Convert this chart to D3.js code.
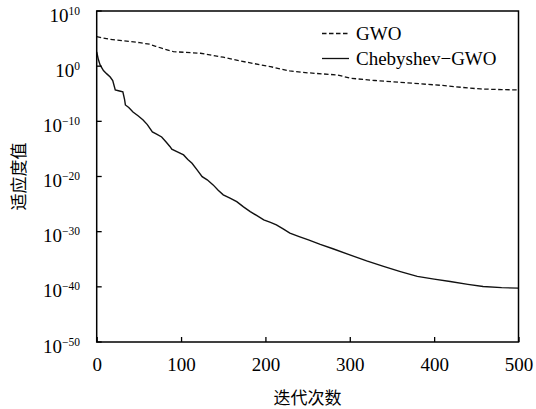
<!DOCTYPE html>
<html>
<head>
<meta charset="utf-8">
<style>
body { margin: 0; background: #fff; }
</style>
</head>
<body>
<script src="https://d3js.org/d3.v7.min.js"></script>
<script>
// iterations and log10 of fitness
var gwoIter = [0, 16, 51, 63, 70, 77, 91, 123, 150, 170, 206, 229, 250, 285, 301, 330, 375, 410, 440, 455, 480, 500];
var gwoLog = [5.34, 4.87, 4.26, 3.97, 3.6, 3.25, 2.63, 2.34, 1.62, 0.94, -0.09, -0.87, -1.2, -1.59, -2.19, -2.6, -3.1, -3.5, -3.95, -4.13, -4.25, -4.31];

var chebIter = [0, 2, 4, 8, 12, 16, 19, 22, 27, 31, 33, 34, 38, 43, 49, 55, 60, 66, 71, 77, 82, 87, 89, 95, 103, 108, 113, 119, 125, 131, 138, 144, 150, 158, 166, 174, 182, 190, 198, 206, 213, 221, 229, 240, 251, 265, 280, 300, 320, 340, 360, 380, 400, 419, 440, 458, 480, 500];
var chebLog = [2.57, 1.2, 0.22, -0.8, -1.4, -1.96, -2.6, -4.31, -4.5, -4.67, -6.0, -7.03, -7.5, -8.3, -9.0, -9.75, -10.6, -11.92, -12.3, -12.83, -13.7, -14.6, -15.05, -15.5, -16.09, -16.9, -17.59, -18.8, -20.02, -20.6, -21.52, -22.5, -23.33, -23.9, -24.55, -25.5, -26.36, -27.1, -27.86, -28.3, -28.77, -29.5, -30.27, -30.9, -31.49, -32.3, -33.1, -34.2, -35.3, -36.3, -37.23, -38.1, -38.6, -39.04, -39.55, -39.95, -40.15, -40.24];

var xTicks = [0, 100, 200, 300, 400, 500];
var yTickExp = [10, 0, -10, -20, -30, -40, -50];
var seriesNames = ["GWO", "Chebyshev\u2212GWO"];

var W = 536, H = 409;
var pLeft = 96.7, pRight = 518.5, pTop = 11, pBottom = 342;
var serif = "'Liberation Serif', 'Times New Roman', serif";
var cjk = "'Noto Sans CJK SC', sans-serif";

var svg = d3.select("body").append("svg")
    .attr("width", W)
    .attr("height", H);

var x = d3.scaleLinear().domain([0, 500]).range([pLeft, pRight]);
var y = d3.scaleLog().domain([1e-50, 1e10]).range([pBottom, pTop]);

function toPts(it, lg) {
    return it.map(function (d, i) { return [d, Math.pow(10, lg[i])]; });
}

var line = d3.line()
    .x(function (d) { return x(d[0]); })
    .y(function (d) { return y(d[1]); });

// series
svg.append("path")
    .attr("d", line(toPts(gwoIter, gwoLog)))
    .attr("fill", "none")
    .attr("stroke", "#111")
    .attr("stroke-width", 1.3)
    .attr("stroke-dasharray", "4.5,2.5");

svg.append("path")
    .attr("d", line(toPts(chebIter, chebLog)))
    .attr("fill", "none")
    .attr("stroke", "#111")
    .attr("stroke-width", 1.4);

// frame
svg.append("rect")
    .attr("x", pLeft).attr("y", pTop)
    .attr("width", pRight - pLeft).attr("height", pBottom - pTop)
    .attr("fill", "none")
    .attr("stroke", "#000")
    .attr("stroke-width", 1.5);

// x ticks (inside)
var xg = svg.append("g").attr("transform", "translate(0," + pBottom + ")");
xg.call(d3.axisBottom(x).tickValues(xTicks).tickSizeInner(-5).tickSizeOuter(0).tickPadding(16).tickFormat(d3.format("d")));
xg.select(".domain").remove();
xg.selectAll("line").attr("stroke", "#000").attr("stroke-width", 1.3);
xg.selectAll("text").attr("font-family", serif).attr("font-size", 19).attr("fill", "#000");

// y ticks (inside)
var yg = svg.append("g");
yTickExp.forEach(function (e) {
    var yy = y(Math.pow(10, e));
    yg.append("line")
        .attr("x1", pLeft).attr("x2", pLeft + 5)
        .attr("y1", yy).attr("y2", yy)
        .attr("stroke", "#000").attr("stroke-width", 1.3);
    var t = yg.append("text")
        .attr("x", 80).attr("y", yy + 10.5)
        .attr("text-anchor", "end")
        .attr("font-family", serif)
        .attr("font-size", 19)
        .attr("fill", "#000");
    t.append("tspan").text("10");
    t.append("tspan")
        .attr("dy", -7)
        .attr("font-size", 11.5)
        .text(e < 0 ? "\u2212" + (-e) : String(e));
});

// axis titles
svg.append("text")
    .attr("x", (pLeft + pRight) / 2).attr("y", 404)
    .attr("text-anchor", "middle")
    .attr("font-family", cjk).attr("font-size", 17)
    .attr("fill", "#000")
    .text("迭代次数");

svg.append("text")
    .attr("transform", "translate(25," + ((pTop + pBottom) / 2) + ") rotate(-90)")
    .attr("text-anchor", "middle")
    .attr("font-family", cjk).attr("font-size", 17)
    .attr("fill", "#000")
    .text("适应度值");

// legend
var lg = svg.append("g");
seriesNames.forEach(function (name, i) {
    var ly = 33.5 + i * 25;
    lg.append("line")
        .attr("x1", 322).attr("x2", 349)
        .attr("y1", ly).attr("y2", ly)
        .attr("stroke", "#111")
        .attr("stroke-width", 1.3)
        .attr("stroke-dasharray", i === 0 ? "4.5,2.5" : null);
    lg.append("text")
        .attr("x", 356).attr("y", ly + 6.5)
        .attr("font-family", serif).attr("font-size", 19)
        .attr("fill", "#000")
        .text(name);
});
</script>
</body>
</html>
